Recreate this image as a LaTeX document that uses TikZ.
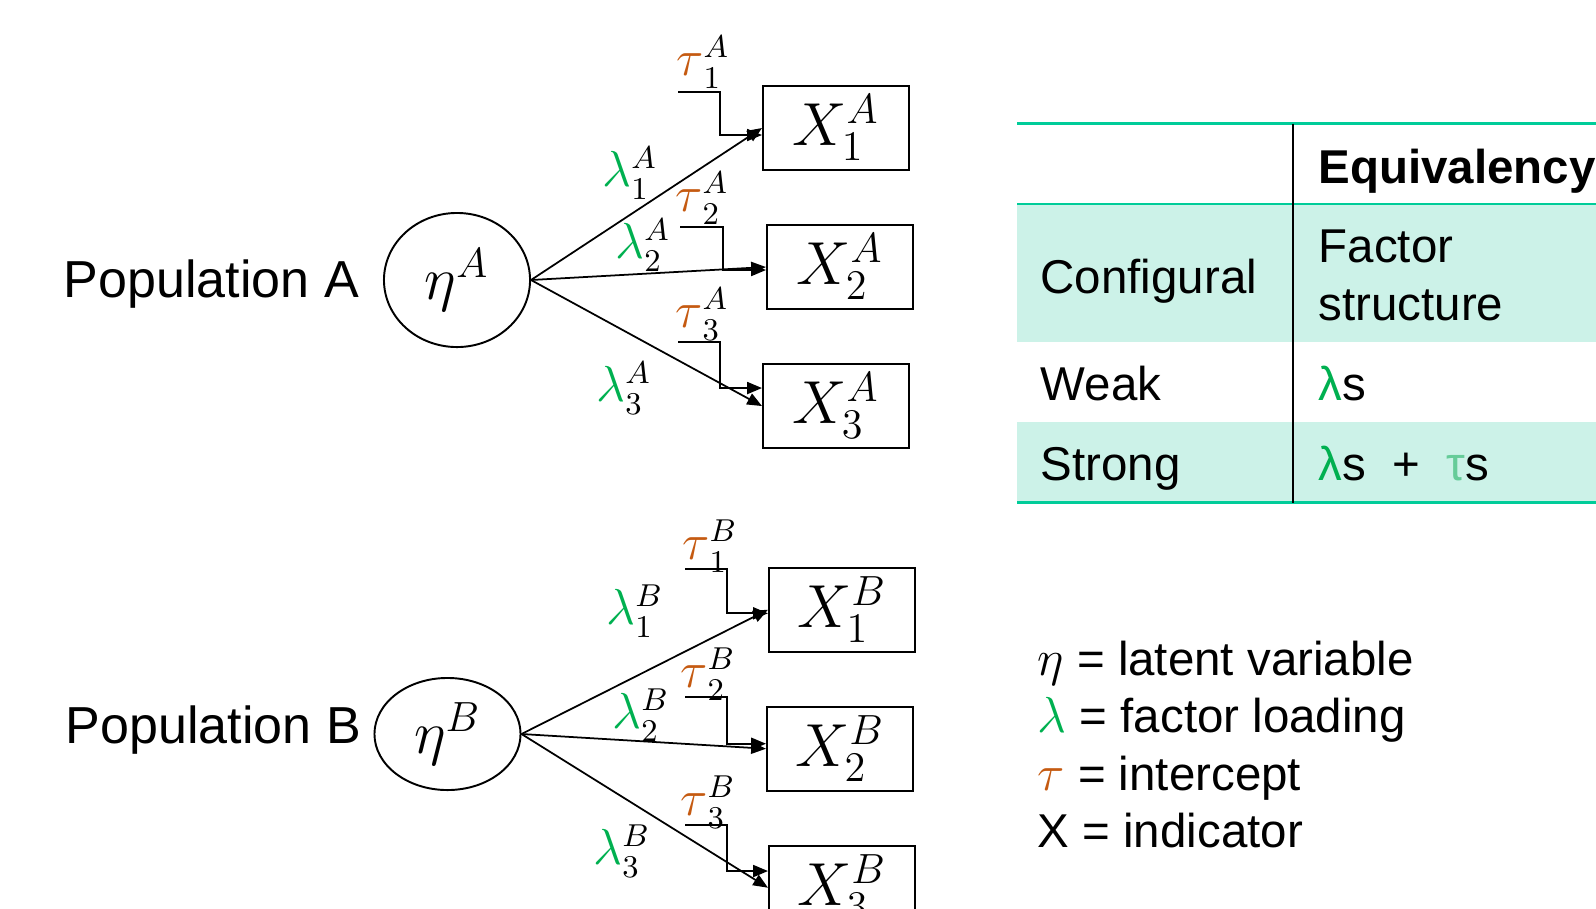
\documentclass[tikz,border=0pt]{standalone}
\usepackage{fontspec}
\setmainfont{Liberation Sans}
\usepackage{xcolor}
\usepackage{tikz}
\usetikzlibrary{arrows.meta,positioning,calc,shapes.geometric}
\definecolor{loadgreen}{HTML}{00B050}
\definecolor{icptbrown}{HTML}{C55A11}
\definecolor{tabrule}{HTML}{00CC99}
\definecolor{tabfill}{HTML}{CCF2E8}
\definecolor{tablight}{HTML}{66CC99}
\newcommand{\lmb}[2]{\textcolor{loadgreen}{\lambda}_{#1}^{#2}}
\newcommand{\icpt}[2]{\textcolor{icptbrown}{\tau}_{#1}^{#2}}

\begin{document}
\begin{tikzpicture}[x=0.01cm, y=-0.01cm, node distance=0.53cm, latent/.style={draw, ellipse, line width=0.55pt, inner sep=0pt, minimum width=1.46cm, font=\fontsize{17.4}{20}\selectfont}, ind/.style={draw, line width=0.55pt, inner sep=0pt, minimum width=1.46cm, minimum height=0.84cm, font=\fontsize{18}{20}\selectfont}, poplbl/.style={anchor=base west, inner sep=0pt, font=\fontsize{14.8}{17}\selectfont}, parlbl/.style={inner sep=0pt, font=\fontsize{13.5}{15}\selectfont}, tabtxt/.style={anchor=base west, inner sep=0pt, font=\fontsize{13.5}{16.5}\selectfont}, loading/.style={-{Triangle[length=4.2pt,width=3.4pt]}, line width=0.5pt}, icptline/.style={-{Triangle[length=4.2pt,width=3.4pt]}, line width=0.5pt}, tabline/.style={tabrule, line width=0.8pt}]
\useasboundingbox (0,0) rectangle (1596,908);
% population A
\node[poplbl] (popa) at (63,297) {Population A};
\node[latent, minimum height=1.34cm] (etaa) at (457,280) {$\eta^A$};
\node[ind] (x1a) at (836,128) {$X_1^A$};
\node[ind, below=of x1a, xshift=0.04cm] (x2a) {$X_2^A$};
\node[ind, below=of x2a, xshift=-0.04cm] (x3a) {$X_3^A$};
\node[parlbl] (l1a) at (630,173) {$\lmb{1}{A}$};
\node[parlbl] (l2a) at (643,245) {$\lmb{2}{A}$};
\node[parlbl] (l3a) at (624,388) {$\lmb{3}{A}$};
\node[parlbl] (t1a) at (703,62) {$\icpt{1}{A}$};
\node[parlbl] (t2a) at (702,198) {$\icpt{2}{A}$};
\node[parlbl] (t3a) at (702,314) {$\icpt{3}{A}$};
\coordinate (c1a) at (678,91.7); \coordinate (c2a) at (680,226.7); \coordinate (c3a) at (678,341.7);
\draw[loading] (etaa.east) -- (x1a.west); \draw[loading] (etaa.east) -- (x2a.west); \draw[loading] (etaa.east) -- (x3a.west);
\draw[icptline] (c1a) -- ++(42,0) |- ($(x1a.west)+(0,7)$); \draw[icptline] (c2a) -- ++(43,0) |- ($(x2a.west)+(0,3)$); \draw[icptline] (c3a) -- ++(42,0) |- ($(x3a.west)+(0,-18)$);
% population B
\node[poplbl] (popb) at (65,743) {Population B};
\node[latent, minimum height=1.12cm] (etab) at (447.5,734) {$\eta^B$};
\node[ind] (x1b) at (842,609.7) {$X_1^B$};
\node[ind, below=of x1b, xshift=-0.02cm] (x2b) {$X_2^B$};
\node[ind, below=of x2b, xshift=0.02cm] (x3b) {$X_3^B$};
\node[parlbl] (l1b) at (635,611) {$\lmb{1}{B}$};
\node[parlbl] (l2b) at (641,715) {$\lmb{2}{B}$};
\node[parlbl] (l3b) at (622,851) {$\lmb{3}{B}$};
\node[parlbl] (t1b) at (710,546) {$\icpt{1}{B}$};
\node[parlbl] (t2b) at (708,674) {$\icpt{2}{B}$};
\node[parlbl] (t3b) at (708,802) {$\icpt{3}{B}$};
\coordinate (c1b) at (685,569.3); \coordinate (c2b) at (685,697.3); \coordinate (c3b) at (685,825);
\draw[loading] (etab.east) -- (x1b.west); \draw[loading] (etab.east) -- (x2b.west); \draw[loading] (etab.east) -- (x3b.west);
\draw[icptline] (c1b) -- ++(42,0) |- ($(x1b.west)+(0,3.6)$); \draw[icptline] (c2b) -- ++(42,0) |- ($(x2b.west)+(0,-5)$); \draw[icptline] (c3b) -- ++(42,0) |- ($(x3b.west)+(0,-16.7)$);
% table
\fill[tabfill] (1017,204) rectangle (1596,341.7); \fill[tabfill] (1017,421.7) rectangle (1596,502.7);
\draw[tabline] (1017,123.5) -- (1596,123.5); \draw[tabline] (1017,204) -- (1596,204); \draw[tabline] (1017,502.7) -- (1596,502.7);
\draw[line width=0.55pt] (1292.7,123.5) -- (1292.7,502.7);
\node[tabtxt, font={\fontsize{13.5}{16.5}\selectfont\bfseries}] (hdr) at (1318,183) {Equivalency};
\node[tabtxt] (conf) at (1040,293) {Configural};
\node[tabtxt, align=left] (fstr) at (1318,320.6) {Factor\\structure};
\node[tabtxt] (weak) at (1040,400.7) {Weak};
\node[tabtxt] (wlam) at (1318,400.7) {\textcolor{loadgreen}{λ}s};
\node[tabtxt] (strong) at (1040,480.7) {Strong};
\node[tabtxt] (slam) at (1318,480.7) {\textcolor{loadgreen}{λ}s\ \ +\ \ \textcolor{tablight}{τ}s};
% legend
\node[tabtxt] (leta) at (1037,675) {$\eta$ = latent variable};
\node[tabtxt] (llam) at (1037,732) {$\textcolor{loadgreen}{\lambda}$ = factor loading};
\node[tabtxt] (ltau) at (1037,790) {$\textcolor{icptbrown}{\tau}$ = intercept};
\node[tabtxt] (lind) at (1037,847) {X = indicator};
\end{tikzpicture}
\end{document}
